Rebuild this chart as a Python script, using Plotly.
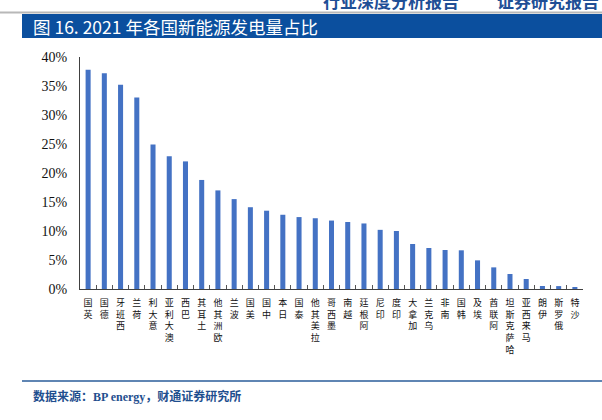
import plotly.graph_objects as go

countries = ["英国", "德国", "西班牙", "荷兰", "意大利", "澳大利亚", "巴西", "土耳其", "欧洲其他", "波兰",
             "美国", "中国", "日本", "泰国", "拉美其他", "墨西哥", "越南", "阿根廷", "印尼", "印度",
             "加拿大", "乌克兰", "南非", "韩国", "埃及", "阿联酋", "哈萨克斯坦", "马来西亚", "伊朗", "俄罗斯", "沙特"]
share = [0.378, 0.372, 0.352, 0.330, 0.249, 0.229, 0.220, 0.188, 0.170, 0.155,
         0.141, 0.135, 0.128, 0.124, 0.122, 0.118, 0.1155, 0.113, 0.102, 0.100,
         0.0776, 0.0707, 0.0672, 0.0667, 0.0494, 0.0373, 0.0259, 0.0172, 0.0052, 0.005, 0.0023]
y_ticks = [0, 0.05, 0.10, 0.15, 0.20, 0.25, 0.30, 0.35, 0.40]
y_tick_text = ["0%", "5%", "10%", "15%", "20%", "25%", "30%", "35%", "40%"]

title = "图 16. 2021 年各国新能源发电量占比"
source = ("数据来源：<span style=\"font-family:'Liberation Serif'\">BP energy</span>，财通证券研究所")
header_left = "行业深度分析报告"
header_right = "证券研究报告"

W, H = 602, 420
L, R, T, B = 80, 19, 57, 131
PW, PH = W - L - R, H - T - B


def px(x):
    return (x - L) / PW


def py(y):
    return (H - B - y) / PH


tick_labels = ["<br>".join(reversed(c)) for c in countries]

fig = go.Figure()
fig.add_trace(go.Bar(x=countries, y=share, marker=dict(color="#4472C4", line=dict(width=0)),
                     hoverinfo="x+y"))

fig.update_layout(
    width=W, height=H,
    margin=dict(l=L, r=R, t=T, b=B),
    paper_bgcolor="white", plot_bgcolor="white",
    showlegend=False,
    bargap=0.69,
    xaxis=dict(
        tickmode="array", tickvals=countries, ticktext=tick_labels,
        tickangle=0, tickson="boundaries", ticks="inside", ticklen=4,
        tickcolor="#555555", showline=True, linecolor="#404040", linewidth=1,
        tickfont=dict(family="Noto Sans CJK SC", size=9, color="#111111"),
        showgrid=False, zeroline=False, ticklabelstandoff=5,
    ),
    yaxis=dict(
        range=[0, 0.40], tickmode="array", tickvals=y_ticks, ticktext=y_tick_text,
        showline=True, linecolor="#404040", linewidth=1, ticks="",
        tickfont=dict(family="Liberation Serif, Times New Roman, serif", size=14, color="#111111"),
        showgrid=False, zeroline=False, ticklabelstandoff=9,
    ),
    font=dict(family="Noto Sans CJK SC"),
)

shapes = [
    dict(type="line", xref="paper", yref="paper", x0=px(0), x1=px(W), y0=py(12.5), y1=py(12.5),
         line=dict(color="#b8b8b8", width=2)),
    dict(type="rect", xref="paper", yref="paper", x0=px(22), x1=px(W), y0=py(38), y1=py(14),
         fillcolor="#0B4F9E", line=dict(width=0), layer="below"),
    dict(type="line", xref="paper", yref="paper", x0=px(22), x1=px(W), y0=py(381), y1=py(381),
         line=dict(color="#2A5C9A", width=1.5)),
]
fig.update_layout(shapes=shapes)

annotations = [
    dict(text=header_left, xref="paper", yref="paper", x=px(321), y=py(0), xanchor="left", yanchor="middle",
         showarrow=False, font=dict(family="Noto Sans CJK SC", size=17, color="#1F4F96", weight="bold")),
    dict(text=header_right, xref="paper", yref="paper", x=px(495), y=py(0), xanchor="left", yanchor="middle",
         showarrow=False, font=dict(family="Noto Sans CJK SC", size=17, color="#1F4F96", weight="bold")),
    dict(text=title, xref="paper", yref="paper", x=px(31), y=py(26.5), xanchor="left", yanchor="middle",
         showarrow=False, font=dict(family="Noto Sans CJK SC", size=17.5, color="white")),
    dict(text=source, xref="paper", yref="paper", x=px(31), y=py(395), xanchor="left", yanchor="middle",
         showarrow=False, font=dict(family="Noto Sans CJK SC", size=12, color="#1F4F8F", weight="bold")),
]
fig.update_layout(annotations=annotations)

fig.write_html("out.html", config={"displayModeBar": False},
               post_script="document.body.style.margin='0';document.body.style.overflow='hidden';")
